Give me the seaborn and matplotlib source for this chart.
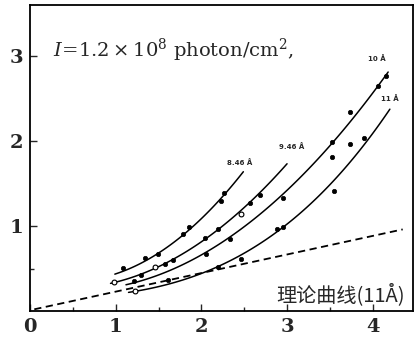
import numpy as np
import pandas as pd
import matplotlib
matplotlib.use("Agg")
import matplotlib.pyplot as plt
import seaborn as sns

# ---- data ----
# measured points (x, y) per wavelength
a_x = [1.08, 1.34, 1.49, 1.78, 1.86, 2.23, 2.27]
a_y = [0.51, 0.62, 0.67, 0.91, 0.99, 1.29, 1.39]
b_x = [0.98, 1.30, 1.46, 2.04, 2.19, 2.46, 2.57, 2.68]
b_y = [0.34, 0.42, 0.52, 0.86, 0.96, 1.14, 1.27, 1.37]
c_x = [1.21, 1.58, 1.67, 2.05, 2.33, 2.95, 3.52, 3.73, 4.06, 4.15]
c_y = [0.35, 0.55, 0.60, 0.67, 0.85, 1.33, 1.99, 2.34, 2.65, 2.76]
d_x = [1.23, 1.61, 2.19, 2.46, 2.88, 2.95, 3.52, 3.55, 3.73, 3.90]
d_y = [0.24, 0.37, 0.52, 0.61, 0.97, 0.99, 1.81, 1.41, 1.96, 2.04]
open_x = [0.98, 1.46, 2.46, 1.23]
open_y = [0.34, 0.52, 1.14, 0.24]

# fitted curves
ca_x = [0.99, 1.50, 1.86, 2.25, 2.49]
ca_y = [0.43, 0.69, 0.96, 1.33, 1.65]
cb_x = [0.94, 1.50, 2.00, 2.50, 3.00]
cb_y = [0.32, 0.53, 0.82, 1.20, 1.74]
cc_x = [1.12, 1.50, 2.00, 2.50, 3.00, 3.50, 4.18]
cc_y = [0.28, 0.45, 0.68, 1.00, 1.40, 1.92, 2.83]
cd_x = [1.15, 1.50, 2.00, 2.50, 3.00, 3.50, 4.20]
cd_y = [0.21, 0.30, 0.45, 0.66, 1.02, 1.50, 2.37]
theory_x = [0.05, 4.35]
theory_y = [0.02, 0.96]

curve_labels = ["8.46 Å", "9.46 Å", "10 Å", "11 Å"]
x_ticks = [0, 1, 2, 3, 4]
y_ticks = [1, 2, 3]

sns.set_theme(style="ticks")
plt.rcParams['font.family'] = ['DejaVu Serif']
plt.rcParams['mathtext.fontset'] = 'dejavuserif'

fig = plt.figure(figsize=(4.17, 3.43), dpi=100)
ax = fig.add_axes([30/417, 32/343, 383/417, 306/343])

# measured points
pts = pd.DataFrame({
    "x": a_x + b_x + c_x + d_x,
    "y": a_y + b_y + c_y + d_y,
})
sns.scatterplot(data=pts, x="x", y="y", ax=ax, color="black", s=10,
                edgecolor="black", linewidth=0.5, zorder=3)
sns.scatterplot(x=open_x, y=open_y, ax=ax, color="white", s=12,
                edgecolor="black", linewidth=0.8, zorder=4)

# fitted curves
for cx, cy, deg in [(ca_x, ca_y, 2), (cb_x, cb_y, 2), (cc_x, cc_y, 2), (cd_x, cd_y, 3)]:
    p = np.polyfit(cx, cy, deg)
    xs = np.linspace(cx[0], cx[-1], 120)
    sns.lineplot(x=xs, y=np.polyval(p, xs), ax=ax, color="black", lw=1.1,
                 sort=False, zorder=2)

sns.lineplot(x=theory_x, y=theory_y, ax=ax, color="black", lw=1.3,
             linestyle=(0, (4, 2.5)), zorder=2)

# curve labels
lab_pos = [(2.45, 1.71), (3.05, 1.89), (4.05, 2.93), (4.20, 2.46)]
for (lx, ly), t in zip(lab_pos, curve_labels):
    ax.text(lx, ly, t, fontsize=5, fontweight="bold", ha="center", va="bottom",
            family=['DejaVu Sans'])

ax.text(0.27, 3.07, r"$I\!=\!1.2\times10^{8}$ photon/cm$^{2}$,", fontsize=14,
        ha="left", va="center")
ax.text(4.37, 0.19, "理论曲线(11Å)", fontsize=14.5, ha="right", va="center",
        family=['Noto Sans CJK SC', 'DejaVu Sans'])

ax.set_xlim(0, 4.47)
ax.set_ylim(0, 3.6)
ax.set_xticks(x_ticks)
ax.set_yticks(y_ticks)
ax.set_xticks([0.5, 1.5, 2.5, 3.5], minor=True)
ax.set_yticks([0.5], minor=True)
ax.tick_params(direction="in", length=5, width=1, labelsize=14, pad=5)
ax.tick_params(which="minor", direction="in", length=3, width=1)
for lab in ax.get_xticklabels() + ax.get_yticklabels():
    lab.set_fontweight("bold")
ax.set_xlabel("")
ax.set_ylabel("")
for s in ax.spines.values():
    s.set_visible(True)
    s.set_linewidth(1.3)
    s.set_color("black")

fig.savefig("out.png", dpi=100)
